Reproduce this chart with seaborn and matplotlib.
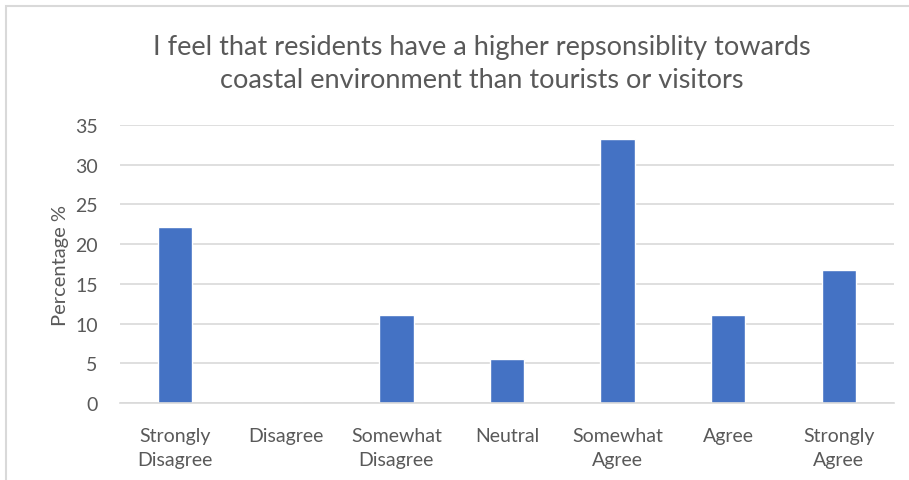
import matplotlib
matplotlib.use("Agg")
import matplotlib.pyplot as plt
from matplotlib.patches import Rectangle
import seaborn as sns
import pandas as pd

categories = ["Strongly\nDisagree", "Disagree", "Somewhat\nDisagree", "Neutral",
              "Somewhat\nAgree", "Agree", "Strongly\nAgree"]
percentages = [22.2, 0.0, 11.1, 5.6, 33.3, 11.1, 16.7]
y_ticks = [0, 5, 10, 15, 20, 25, 30, 35]

title = "I feel that residents have a higher repsonsiblity towards\ncoastal environment than tourists or visitors"
y_label = "Percentage %"

sns.set_theme(style="white")
plt.rcParams["font.family"] = ["Lato", "DejaVu Sans"]

text_color = "#595959"
bar_color = "#4472C4"
grid_color = "#D9D9D9"

df = pd.DataFrame({"category": categories, "pct": percentages})

W, H = 909, 481
fig = plt.figure(figsize=(W / 100, H / 100), dpi=100)
ax = fig.add_axes([120 / W, 1 - 404 / H, (894 - 120) / W, (404 - 126) / H])

sns.barplot(data=df, x="category", y="pct", color=bar_color, width=0.31,
            saturation=1, ax=ax)

ax.set_ylim(0, 35)
ax.set_yticks(y_ticks)
ax.yaxis.grid(True, color=grid_color, linewidth=1.2)
ax.set_axisbelow(True)
for side in ["top", "right", "left"]:
    ax.spines[side].set_visible(False)
ax.spines["bottom"].set_color(grid_color)
ax.spines["bottom"].set_linewidth(1.2)
ax.tick_params(axis="both", length=0, colors=text_color, labelsize=14)
ax.tick_params(axis="y", pad=16)
ax.tick_params(axis="x", pad=17)
for lbl in ax.get_xticklabels():
    lbl.set_linespacing(1.55)
ax.set_xlabel("")
ax.set_ylabel(y_label, color=text_color, fontsize=14.5, labelpad=4)

fig.text(482 / W, 1 - 64 / H, title, ha="center", va="center",
         color=text_color, fontsize=19.5, linespacing=1.4)

# chart frame
fig.patches.append(Rectangle((6 / W, -0.1), 1.1, 1 - 7 / H + 0.1,
                             transform=fig.transFigure, fill=False,
                             edgecolor=grid_color, linewidth=1.5))

fig.savefig("out.png", dpi=100, facecolor="white")
